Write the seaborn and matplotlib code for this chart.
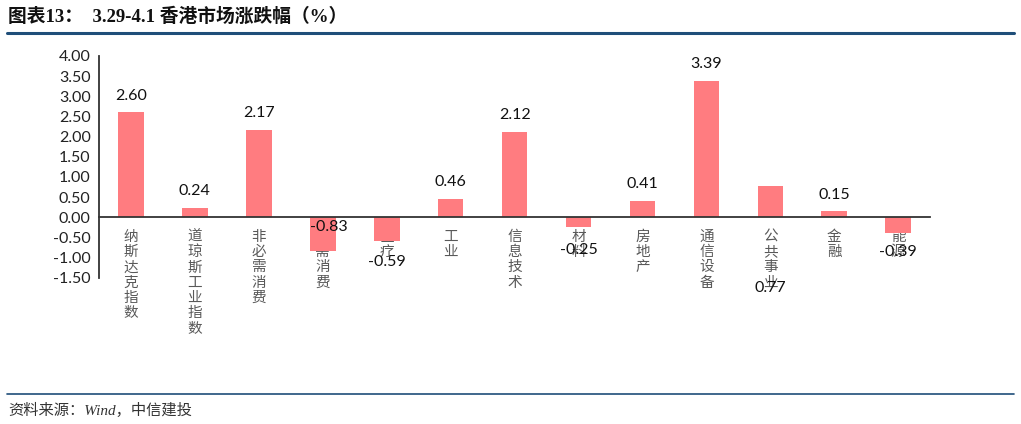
import numpy as np
import pandas as pd
import matplotlib
matplotlib.use('Agg')
import matplotlib.pyplot as plt
import seaborn as sns

categories = ['纳斯达克指数', '道琼斯工业指数', '非必需消费', '必需消费', '医疗', '工业',
              '信息技术', '材料', '房地产', '通信设备', '公共事业', '金融', '能源']
values = [2.60, 0.24, 2.17, -0.83, -0.59, 0.46, 2.12, -0.25, 0.41, 3.39, 0.77, 0.15, -0.39]
y_ticks = [-1.5, -1.0, -0.5, 0.0, 0.5, 1.0, 1.5, 2.0, 2.5, 3.0, 3.5, 4.0]

title = '图表13：  3.29-4.1 香港市场涨跌幅（%）'
source = '资料来源：Wind，中信建投'

df = pd.DataFrame({'cat': categories, 'val': values})

sns.set_style('white')
plt.rcParams['font.family'] = ['Lato', 'Noto Sans CJK SC', 'DejaVu Sans']
plt.rcParams['axes.unicode_minus'] = False

fig = plt.figure(figsize=(10.21, 4.24), dpi=100)
ax = fig.add_axes([0.097, 0.345, 0.814, 0.523])

sns.barplot(data=df, x='cat', y='val', color='#FF7C80', saturation=1,
            width=0.4, ax=ax, edgecolor='none')

ax.set_ylim(-1.5, 4.0)
ax.set_xlim(-0.5, len(categories) - 0.5)
ax.set_yticks(y_ticks)
ax.set_yticklabels([f'{v:.2f}' for v in y_ticks], fontsize=11.5, color='#222222')
ax.set_xlabel('')
ax.set_ylabel('')

for s in ['top', 'right']:
    ax.spines[s].set_visible(False)
ax.spines['bottom'].set_position(('data', 0))
for s in ['left', 'bottom']:
    ax.spines[s].set_color('#333333')
    ax.spines[s].set_linewidth(1.3)

# category labels stacked vertically, tick marks between categories
ax.set_xticks(range(len(categories)))
ax.set_xticklabels(['\n'.join(c) for c in categories], fontsize=10.5,
                   color='#595959', family=['Noto Sans CJK SC'], linespacing=1.12,
                   va='top')
ax.tick_params(axis='x', which='major', length=0, pad=9)
ax.set_xticks(np.arange(-0.5, len(categories)), minor=True)
ax.tick_params(axis='x', which='minor', length=5, width=1.3, direction='in', color='#333333')
ax.tick_params(axis='y', length=5, width=1.3, direction='in', color='#333333', pad=6)

# data labels (Excel put a few of them in odd places)
label_shift = {'必需消费': 17, '医疗': -15, '材料': -16, '能源': -14, '公共事业': -73}
for i, (c, v) in enumerate(zip(categories, values)):
    dy = label_shift.get(c, 12 if v >= 0 else -12)
    dx = 4 if c == '必需消费' else 0
    ax.annotate(f'{v:.2f}', xy=(i, v), xytext=(dx, dy), textcoords='offset points',
                ha='center', va='center', fontsize=11.5, color='#111111')

# title, rules and source
fig.text(0.008, 0.960, title, fontsize=13.5, fontweight='bold',
         family=['Liberation Serif', 'Noto Sans CJK SC'], va='center', color='#111111')
fig.add_artist(plt.Line2D([0.007, 0.993], [0.922, 0.922], color='#1F4E79', lw=2.2))
fig.add_artist(plt.Line2D([0.007, 0.993], [0.071, 0.071], color='#1F4E79', lw=1.2))
fig.text(0.008, 0.033, source, fontsize=11, style='italic',
         family=['Liberation Serif', 'Noto Sans CJK SC'], va='center', color='#333333')

fig.savefig('out.png', dpi=100)
